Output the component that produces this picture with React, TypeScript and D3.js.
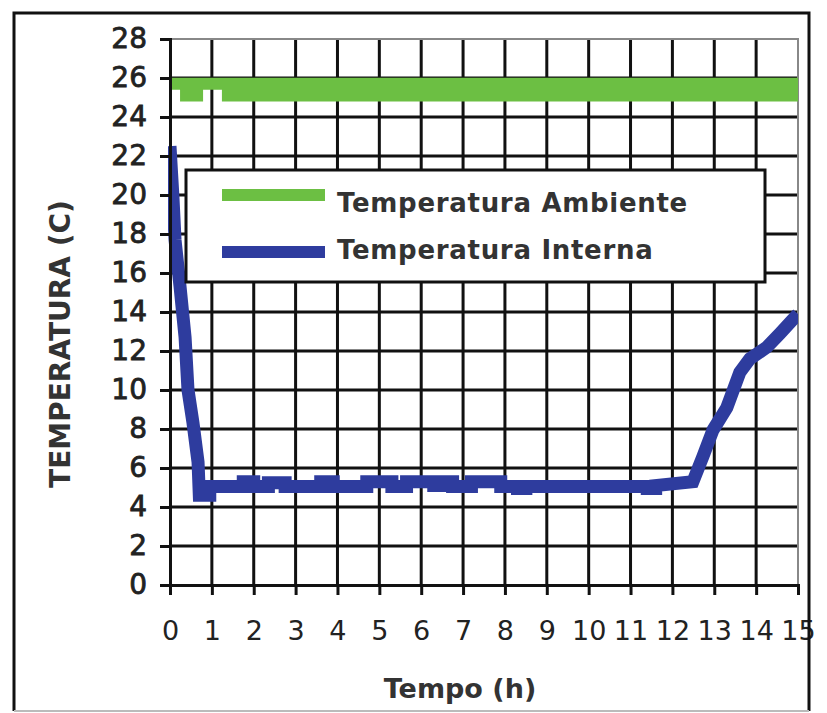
import React, { useEffect, useRef } from 'react';
import * as d3 from 'd3';

// Hours on the x axis, temperatures (C) on the y axis
const hourTicks = [0, 1, 2, 3, 4, 5, 6, 7, 8, 9, 10, 11, 12, 13, 14, 15];
const tempTicks = [0, 2, 4, 6, 8, 10, 12, 14, 16, 18, 20, 22, 24, 26, 28];

// Temperatura Ambiente: readings flicker between two levels, drawn as a band
const ambienteTime = [0, 0.24, 0.24, 0.79, 0.79, 1.24, 1.24, 15];
const ambienteHigh = [25.7, 25.7, 25.7, 25.7, 25.7, 25.7, 25.7, 25.7];
const ambienteLow = [25.7, 25.7, 25.1, 25.1, 25.7, 25.7, 25.1, 25.1];

// Temperatura Interna
const internaTime = [
  0, 0.07, 0.12, 0.24, 0.36, 0.43, 0.55, 0.67, 0.7, 0.95, 0.95,
  1.75, 1.75, 2.0, 2.0, 2.35, 2.35, 2.75, 2.75, 3.6, 3.6, 3.9, 3.9,
  4.7, 4.7, 5.3, 5.3, 5.65, 5.65, 6.3, 6.3, 6.55, 6.55, 6.75, 6.75,
  7.2, 7.2, 7.9, 7.9, 8.3, 8.3, 8.5, 8.5, 11.4, 11.4, 11.6, 11.6,
  12.49, 12.73, 12.97, 13.3, 13.61, 13.85, 14.26, 14.57, 15,
];
const internaTemp = [
  22.5, 19.9, 17.7, 15.3, 12.7, 10.0, 8.3, 6.3, 4.6, 4.6, 5.05,
  5.05, 5.3, 5.3, 5.05, 5.05, 5.25, 5.25, 5.05, 5.05, 5.3, 5.3, 5.05,
  5.05, 5.3, 5.3, 5.05, 5.05, 5.3, 5.3, 5.1, 5.1, 5.3, 5.3, 5.05,
  5.05, 5.3, 5.3, 5.05, 5.05, 4.95, 4.95, 5.05, 5.05, 4.95, 4.95, 5.1,
  5.3, 6.6, 7.95, 9.1, 10.9, 11.6, 12.2, 12.9, 13.9,
];

const seriesNames = ['Temperatura Ambiente', 'Temperatura Interna'];
const seriesColors = ['#6cbf43', '#2e3c9e'];

const FONT = '"DejaVu Sans", Verdana, sans-serif';

const App: React.FC = () => {
  const svgRef = useRef<SVGSVGElement>(null);

  useEffect(() => {
    if (!svgRef.current) return;
    const svg = d3.select(svgRef.current);
    svg.selectAll('*').remove();

    const left = 170, right = 798, top = 39, bottom = 585;
    const halfStroke = 6;

    const x = d3.scaleLinear().domain([0, 15]).range([left, right]);
    const y = d3.scaleLinear().domain([0, 28]).range([bottom, top]);

    svg.append('rect').attr('width', 827).attr('height', 713).attr('fill', '#fff');

    // Grid (one path per direction)
    const vGrid = hourTicks
      .filter(h => h > 0 && h < 15)
      .map(h => `M${x(h)},${top}V${bottom}`)
      .join('');
    const hGrid = tempTicks
      .filter(t => t > 0 && t < 28)
      .map(t => `M${left},${y(t)}H${right}`)
      .join('');
    svg.append('path')
      .attr('d', vGrid + hGrid)
      .attr('fill', 'none')
      .attr('stroke', '#111')
      .attr('stroke-width', 3);
    // top / right edge of plot area
    svg.append('path')
      .attr('d', `M${left},${y(28)}H${x(15)}V${bottom}`)
      .attr('fill', 'none').attr('stroke', '#888').attr('stroke-width', 2);

    svg.append('clipPath').attr('id', 'plot-clip')
      .append('rect').attr('x', left - 2).attr('y', top - 10)
      .attr('width', right - left + 2).attr('height', bottom - top + 20);

    const series = svg.append('g').attr('clip-path', 'url(#plot-clip)');

    // Ambiente band (filled between the two levels, widened by half a line width)
    const ambIdx = d3.range(ambienteTime.length);
    const area = d3.area<number>()
      .x(i => x(ambienteTime[i]))
      .y0(i => y(ambienteLow[i]) + halfStroke)
      .y1(i => y(ambienteHigh[i]) - halfStroke);
    series.append('path')
      .attr('d', area(ambIdx))
      .attr('fill', seriesColors[0]);

    // Interna line
    const intIdx = d3.range(internaTime.length);
    const line = d3.line<number>()
      .x(i => x(internaTime[i]))
      .y(i => y(internaTemp[i]));
    series.append('path')
      .attr('d', line(intIdx))
      .attr('fill', 'none')
      .attr('stroke', seriesColors[1])
      .attr('stroke-width', 13)
      .attr('stroke-linejoin', 'miter');

    // Axes
    const yAxis = svg.append('g')
      .attr('transform', `translate(${left},0)`)
      .call(d3.axisLeft(y).tickValues(tempTicks).tickSize(10).tickPadding(13));
    yAxis.select('.domain').attr('stroke', '#111').attr('stroke-width', 3);
    yAxis.selectAll('.tick line').attr('stroke', '#111').attr('stroke-width', 3);
    yAxis.selectAll('.tick text')
      .attr('font-family', FONT).attr('font-size', 28)
      .attr('fill', '#222')
      .attr('stroke', '#222').attr('stroke-width', 0.8);

    const xAxis = svg.append('g')
      .attr('transform', `translate(0,${bottom})`)
      .call(d3.axisBottom(x).tickValues(hourTicks).tickFormat(d3.format('d')).tickSize(10).tickPadding(45));
    xAxis.select('.domain').attr('stroke', '#111').attr('stroke-width', 3);
    xAxis.selectAll('.tick line').attr('stroke', '#111').attr('stroke-width', 3);
    xAxis.selectAll('.tick text')
      .attr('font-family', FONT).attr('font-size', 27)
      .attr('dy', 0)
      .attr('fill', '#222');

    // Legend
    const legend = svg.append('g');
    legend.append('rect')
      .attr('x', 186).attr('y', 170).attr('width', 579).attr('height', 112)
      .attr('fill', '#fff').attr('stroke', '#111').attr('stroke-width', 3);
    const lineY = [195, 252];
    const textY = [212, 259];
    seriesNames.forEach((name, i) => {
      legend.append('line')
        .attr('x1', 222).attr('x2', 325).attr('y1', lineY[i]).attr('y2', lineY[i])
        .attr('stroke', seriesColors[i]).attr('stroke-width', 12);
      legend.append('text')
        .attr('x', 337).attr('y', textY[i])
        .attr('font-family', FONT).attr('font-size', 26).attr('font-weight', 700)
        .attr('letter-spacing', 0.7)
        .attr('fill', '#333')
        .text(name);
    });

    // Axis titles
    svg.append('text')
      .attr('transform', 'translate(70,344) rotate(-90)')
      .attr('text-anchor', 'middle')
      .attr('font-family', FONT).attr('font-size', 28).attr('font-weight', 700)
      .attr('fill', '#333')
      .text('TEMPERATURA (C)');
    svg.append('text')
      .attr('x', 460).attr('y', 698)
      .attr('text-anchor', 'middle')
      .attr('font-family', FONT).attr('font-size', 27).attr('font-weight', 700)
      .attr('fill', '#333')
      .text('Tempo (h)');

    // Outer frame
    svg.append('path')
      .attr('d', 'M14,711V13H809V711')
      .attr('fill', 'none').attr('stroke', '#111').attr('stroke-width', 3);
    svg.append('line')
      .attr('x1', 14).attr('x2', 809).attr('y1', 711).attr('y2', 711)
      .attr('stroke', '#bbb').attr('stroke-width', 2);
  }, []);

  return (
    <svg
      ref={svgRef}
      width={827}
      height={713}
      style={{ position: 'absolute', left: 0, top: 0 }}
    />
  );
};

export default App;
